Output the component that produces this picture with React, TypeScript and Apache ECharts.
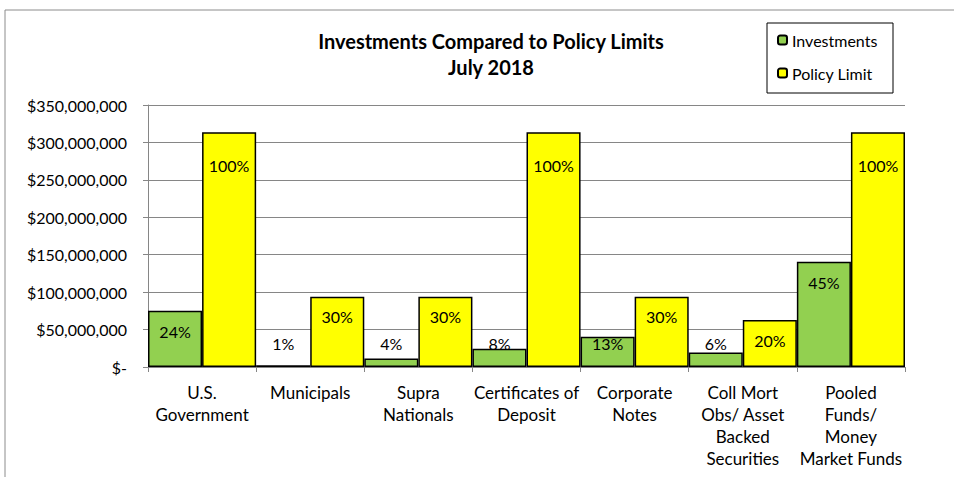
import React, { useEffect, useRef } from "react";
import * as echarts from "echarts";

const categories = [
  "U.S.\nGovernment",
  "Municipals",
  "Supra\nNationals",
  "Certificates of\nDeposit",
  "Corporate\nNotes",
  "Coll Mort\nObs/ Asset\nBacked\nSecurities",
  "Pooled\nFunds/\nMoney\nMarket Funds",
];
const investments = [75000000, 2500000, 11500000, 24500000, 40500000, 19500000, 140500000];
const investmentPct = ["24%", "1%", "4%", "8%", "13%", "6%", "45%"];
const policyLimit = [313500000, 94000000, 94000000, 313500000, 94000000, 62700000, 313500000];
const policyPct = ["100%", "30%", "30%", "100%", "30%", "20%", "100%"];

const FONT = "Lato";

function fmtMoney(v: number): string {
  if (v === 0) return "$-";
  return "$" + v.toLocaleString("en-US");
}

export default function App() {
  const ref = useRef<HTMLDivElement>(null);
  useEffect(() => {
    if (!ref.current) return;
    const chart = echarts.init(ref.current, undefined, { renderer: "svg" });
    const invData = investments.map((v) => ({
      value: v,
      label:
        v < 50000000
          ? { position: "insideBottom", distance: 16 }
          : { position: "insideTop", distance: 13 },
    }));
    const polData = policyLimit.map((v) => ({
      value: v,
      label:
        v > 200000000
          ? { position: "insideTop", distance: 25 }
          : { position: "insideTop", distance: 12 },
    }));
    const labelText = { fontFamily: FONT, fontSize: 16, color: "#000" };
    chart.setOption({
      animation: false,
      backgroundColor: "#ffffff",
      textStyle: { fontFamily: FONT },
      title: {
        text: "Investments Compared to Policy Limits\nJuly 2018",
        left: 486,
        top: 23,
        textAlign: "center",
        textStyle: {
          fontFamily: FONT,
          fontWeight: "bold",
          fontSize: 20,
          lineHeight: 26,
          color: "#000",
        },
      },
      legend: {
        orient: "vertical",
        left: 772,
        top: 27,
        itemWidth: 9,
        itemHeight: 9,
        itemGap: 17,
        textStyle: { fontFamily: FONT, fontSize: 16, color: "#000" },
        data: ["Investments", "Policy Limit"],
      },
      graphic: [
        {
          type: "rect",
          shape: { x: 5, y: 10, width: 1000, height: 500 },
          style: { fill: "none", stroke: "#8c8c8c", lineWidth: 1 },
          silent: true,
        },
        {
          type: "rect",
          shape: { x: 767, y: 23, width: 126, height: 70 },
          style: { fill: "none", stroke: "#000", lineWidth: 1 },
          silent: true,
        },
      ],
      grid: { left: 148, right: 49, top: 105, bottom: 110, containLabel: false },
      xAxis: {
        type: "category",
        data: categories,
        axisLine: { lineStyle: { color: "#868686", width: 1 } },
        axisTick: { show: true, length: 5, lineStyle: { color: "#868686" } },
        axisLabel: {
          interval: 0,
          margin: 14,
          fontFamily: FONT,
          fontSize: 17,
          lineHeight: 22,
          color: "#000",
        },
      },
      yAxis: {
        type: "value",
        min: 0,
        max: 350000000,
        interval: 50000000,
        axisLine: { show: true, lineStyle: { color: "#868686", width: 1 } },
        axisTick: { show: true, length: 5, lineStyle: { color: "#868686" } },
        splitLine: { lineStyle: { color: "#868686", width: 1 } },
        axisLabel: {
          margin: 21,
          fontFamily: FONT,
          fontSize: 16,
          color: "#000",
          formatter: (v: number) => fmtMoney(v),
        },
      },
      series: [
        {
          name: "Investments",
          type: "bar",
          data: invData,
          barWidth: "50%",
          barGap: "0%",
          barCategoryGap: "0%",
          itemStyle: { color: "#92d050", borderColor: "#000", borderWidth: 1.5 },
          label: {
            show: true,
            ...labelText,
            formatter: (p: any) => investmentPct[p.dataIndex],
          },
        },
        {
          name: "Policy Limit",
          type: "bar",
          data: polData,
          barWidth: "50%",
          barGap: "0%",
          barCategoryGap: "0%",
          itemStyle: { color: "#ffff00", borderColor: "#000", borderWidth: 1.5 },
          label: {
            show: true,
            ...labelText,
            formatter: (p: any) => policyPct[p.dataIndex],
          },
        },
      ],
    });
    return () => chart.dispose();
  }, []);
  return (
    <div
      ref={ref}
      style={{ position: "fixed", left: 0, top: 0, width: 954, height: 477 }}
    />
  );
}
